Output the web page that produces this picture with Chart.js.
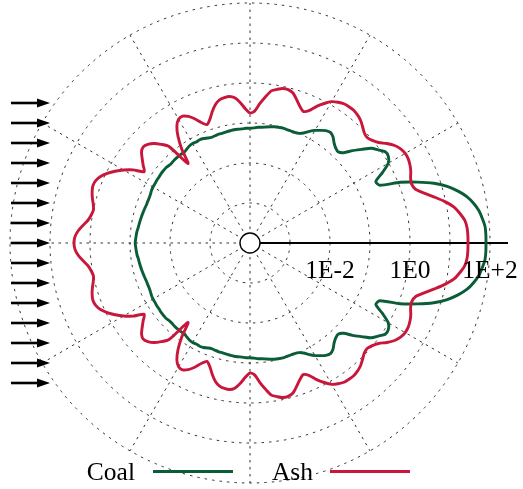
<!DOCTYPE html>
<html>
<head>
<meta charset="utf-8">
<script src="https://cdn.jsdelivr.net/npm/chart.js@4"></script>
<style>
  html, body { margin: 0; padding: 0; background: #fff; }
  #wrap { width: 523px; height: 489px; position: relative; }
</style>
</head>
<body>
<div id="wrap"><canvas id="c"></canvas></div>
<script>
// Scattering angle (degrees), 2° steps around the full circle
const angles = Array.from({ length: 180 }, (_, i) => i * 2);

// log10 of scattered intensity, 0°..180° (forward to backward); the pattern is symmetric
const ashHalf = [
  1.45, 1.45, 1.44, 1.40, 1.30, 1.18, 0.98, 0.75, 0.53, 0.35,
  0.30, 0.33, 0.40, 0.45, 0.48, 0.48, 0.44, 0.36, 0.23, 0.08,
  -0.01, -0.06, -0.03, 0.05, 0.13, 0.18, 0.21, 0.21, 0.20, 0.15,
  0.08, -0.05, -0.20, -0.38, -0.45, -0.36, -0.23, -0.10, -0.05, -0.05,
  -0.10, -0.16, -0.33, -0.51, -0.70, -0.75, -0.64, -0.48, -0.35, -0.30,
  -0.31, -0.34, -0.43, -0.58, -0.75, -0.85, -0.75, -0.60, -0.48, -0.41,
  -0.43, -0.55, -0.78, -1.10, -1.48, -0.85, -0.68, -0.54, -0.45, -0.41,
  -0.46, -0.58, -0.70, -0.81, -0.55, -0.35, -0.18, -0.03, 0.09, 0.16,
  0.18, 0.15, 0.10, 0.04, 0.00, 0.03, 0.09, 0.20, 0.31, 0.38,
  0.40
];
const coalHalf = [
  1.90, 1.90, 1.89, 1.84, 1.78, 1.68, 1.55, 1.36, 1.13, 0.83,
  0.45, 0.05, -0.45, -0.50, -0.25, -0.01, 0.08, 0.08, -0.04, -0.15,
  -0.36, -0.55, -0.75, -0.83, -0.80, -0.73, -0.63, -0.58, -0.61, -0.68,
  -0.75, -0.84, -0.94, -1.00, -1.02, -1.02, -1.02, -1.01, -1.02, -1.03,
  -1.05, -1.07, -1.09, -1.10, -1.12, -1.13, -1.13, -1.14, -1.14, -1.14,
  -1.15, -1.16, -1.17, -1.17, -1.18, -1.19, -1.17, -1.14, -1.13, -1.14,
  -1.13, -1.14, -1.17, -1.20, -1.19, -1.19, -1.19, -1.20, -1.20, -1.18,
  -1.18, -1.18, -1.19, -1.19, -1.20, -1.20, -1.21, -1.23, -1.24, -1.24,
  -1.24, -1.23, -1.22, -1.21, -1.20, -1.19, -1.18, -1.16, -1.15, -1.14,
  -1.13
];

// Radial decades: axis runs from 1E-4 (centre) to 1E+2; labelled exponents
const logMin = -4;
const logMax = 2;
const labelledExponents = [-2, 0, 2];

const seriesNames = ['Coal', 'Ash'];
const seriesColors = ['#0b5d37', '#c8173b'];

// the lower half repeats the upper half
const mirror = half => half.concat(half.slice(1, -1).reverse());
const coal = mirror(coalHalf);
const ash = mirror(ashHalf);

const serif = "'Liberation Serif', 'Times New Roman', serif";

const decorations = {
  id: 'decorations',
  beforeDatasetsDraw(chart) {
    const r = chart.scales.r;
    const ctx = chart.ctx;
    // solid radial axis toward forward scattering
    ctx.save();
    ctx.strokeStyle = '#000';
    ctx.lineWidth = 2.2;
    ctx.beginPath();
    ctx.moveTo(r.xCenter, r.yCenter);
    ctx.lineTo(r.xCenter + r.drawingArea + 18, r.yCenter);
    ctx.stroke();
    ctx.restore();
  },
  afterDatasetsDraw(chart) {
    const r = chart.scales.r;
    const ctx = chart.ctx;
    ctx.save();
    // particle at the centre
    ctx.beginPath();
    ctx.arc(r.xCenter, r.yCenter, 10, 0, Math.PI * 2);
    ctx.fillStyle = '#fff';
    ctx.fill();
    ctx.strokeStyle = '#000';
    ctx.lineWidth = 1.4;
    ctx.stroke();

    // decade labels along the axis
    ctx.fillStyle = '#000';
    ctx.font = '25.5px ' + serif;
    ctx.textAlign = 'center';
    ctx.textBaseline = 'alphabetic';
    labelledExponents.forEach(e => {
      const d = r.getDistanceFromCenterForValue(e);
      const txt = '1E' + (e > 0 ? '+' : '') + e;
      ctx.fillText(txt, r.xCenter + d, r.yCenter + 35);
    });

    // incident beam arrows
    const tipX = r.xCenter - r.getDistanceFromCenterForValue(1);
    const startX = r.xCenter - r.drawingArea + 1;
    const step = r.drawingArea / 12;
    ctx.strokeStyle = '#000';
    ctx.lineWidth = 2.6;
    for (let k = -7; k <= 7; k++) {
      const y = r.yCenter + k * step;
      ctx.beginPath();
      ctx.moveTo(startX, y);
      ctx.lineTo(tipX - 10, y);
      ctx.stroke();
      ctx.beginPath();
      ctx.moveTo(tipX, y);
      ctx.lineTo(tipX - 13, y - 4.5);
      ctx.lineTo(tipX - 13, y + 4.5);
      ctx.closePath();
      ctx.fill();
    }

    // key: name followed by a line sample
    const keyY = 471.5;
    const keys = [
      { textRight: 135, lineFrom: 153, lineTo: 233 },
      { textRight: 313, lineFrom: 330, lineTo: 410 }
    ];
    ctx.textAlign = 'right';
    keys.forEach((k, i) => {
      ctx.fillStyle = '#000';
      ctx.fillText(seriesNames[i], k.textRight, keyY + 8.5);
      ctx.strokeStyle = seriesColors[i];
      ctx.lineWidth = 2.9;
      ctx.beginPath();
      ctx.moveTo(k.lineFrom, keyY);
      ctx.lineTo(k.lineTo, keyY);
      ctx.stroke();
    });
    ctx.restore();
  }
};

new Chart(document.getElementById('c'), {
  type: 'radar',
  data: {
    labels: angles,
    datasets: [
      {
        label: seriesNames[0],
        data: coal,
        borderColor: seriesColors[0],
        borderWidth: 2.9,
        fill: false,
        order: 1
      },
      {
        label: seriesNames[1],
        data: ash,
        borderColor: seriesColors[1],
        borderWidth: 2.9,
        fill: false,
        order: 0
      }
    ]
  },
  options: {
    responsive: true,
    maintainAspectRatio: false,
    animation: false,
    layout: { padding: { left: 10, right: 33, top: 3, bottom: 6 } },
    elements: {
      point: { radius: 0, hoverRadius: 0 },
      line: { tension: 0.25, borderJoinStyle: 'round' }
    },
    plugins: {
      legend: { display: false },
      tooltip: { enabled: false }
    },
    scales: {
      r: {
        min: logMin,
        max: logMax,
        startAngle: 90,
        beginAtZero: false,
        ticks: { display: false, stepSize: 1 },
        pointLabels: { display: false },
        grid: { circular: true, color: 'rgba(0,0,0,0.8)', lineWidth: 1 },
        border: { dash: [2.5, 5] },
        angleLines: {
          display: true,
          color: 'rgba(0,0,0,0.8)',
          lineWidth: c => (c.index % 15 === 0 ? 1 : 0),
          borderDash: [2.5, 4.5]
        }
      }
    }
  },
  plugins: [decorations]
});
</script>
</body>
</html>
